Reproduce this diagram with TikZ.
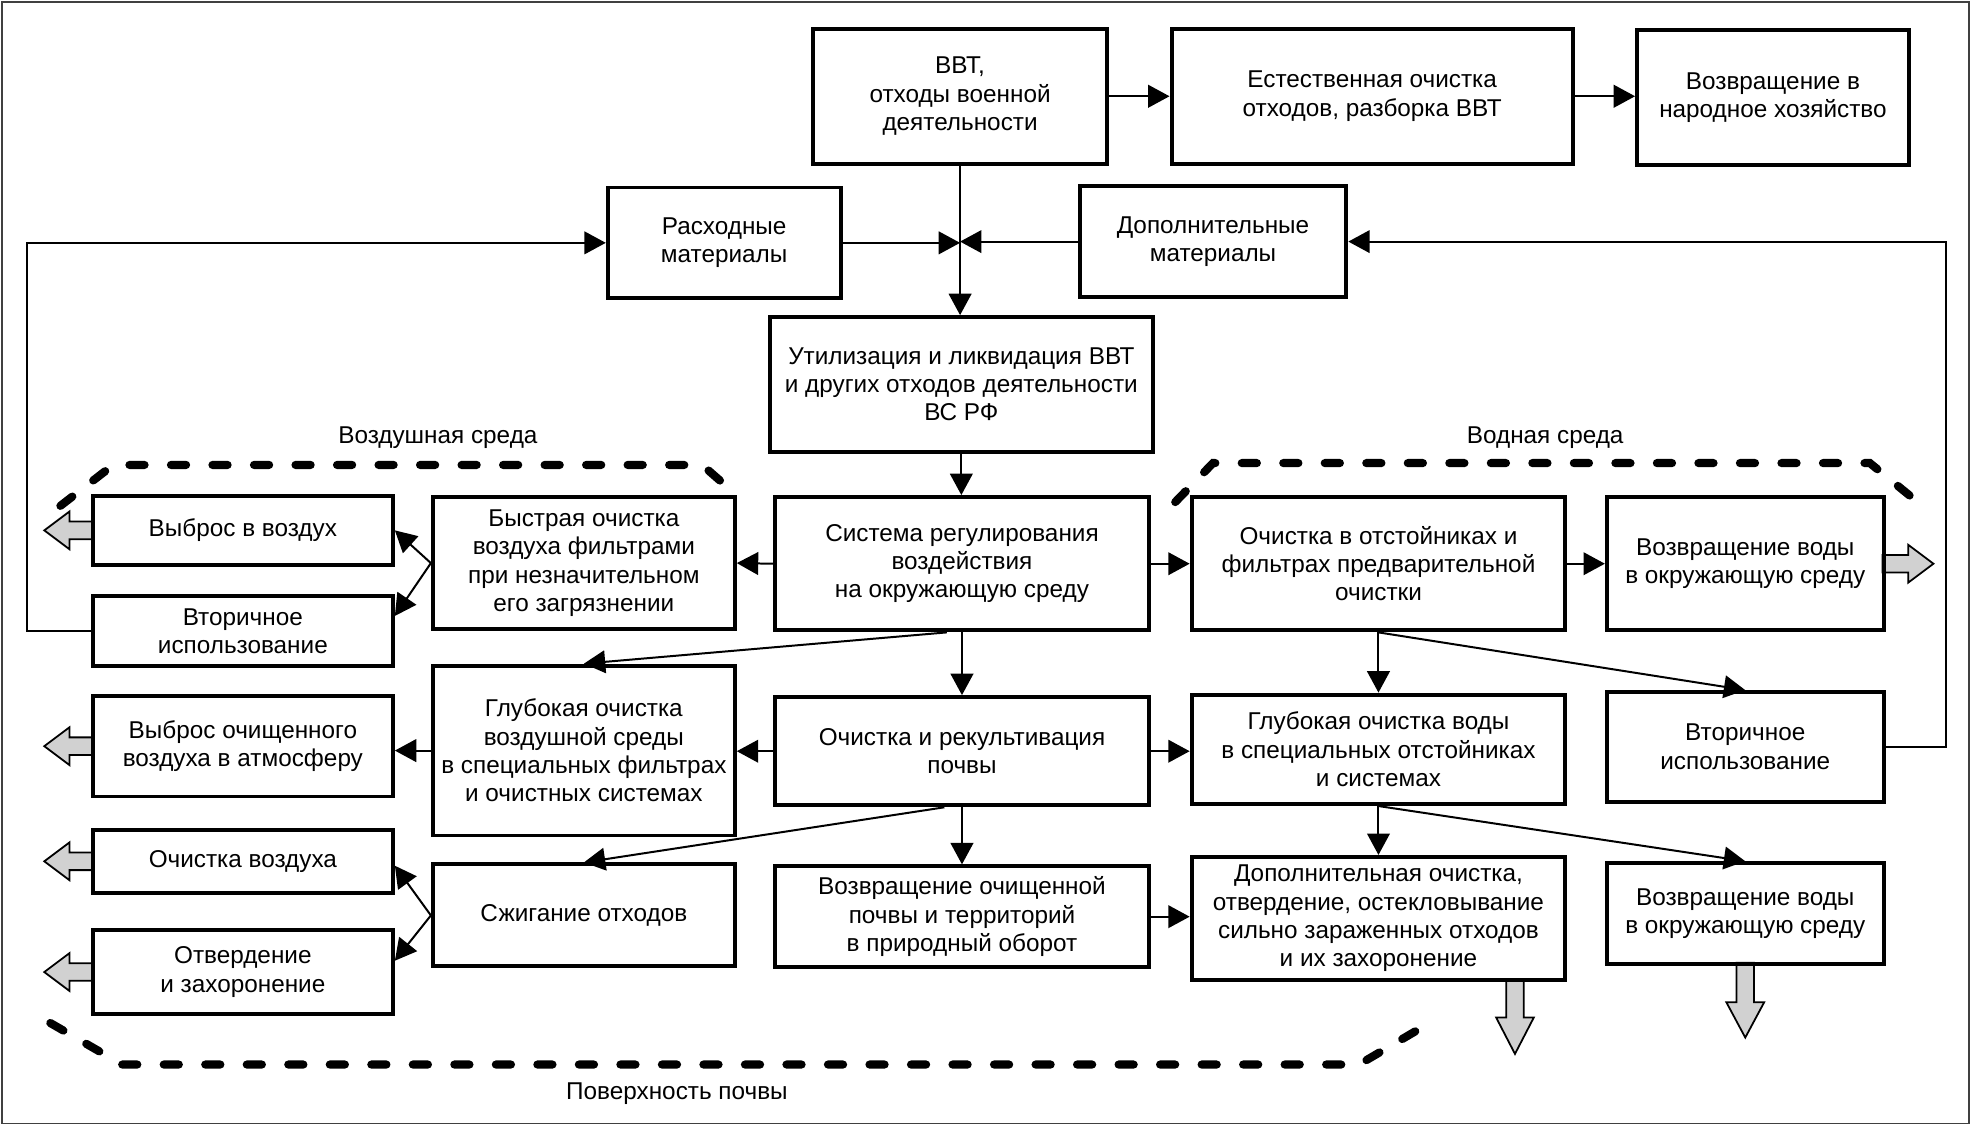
\documentclass[tikz,border=0pt]{standalone}
\usepackage{fontspec}
\setmainfont{Liberation Sans}
\usetikzlibrary{arrows.meta,calc,backgrounds}

\tikzset{
  box/.style={draw, line width=1.8pt, align=center, inner sep=2pt},
  arr/.style={line width=0.9pt, -{Triangle[length=0.34cm,width=0.36cm]}},
  zone/.style={line width=0.13cm, line cap=round, dash pattern=on 0.24cm off 0.42cm},
  pics/fatarrow/.style 2 args={code={
    \draw[line width=0.8pt, fill=black!18] (-2.5,-7) -- (#1,-7) -- (#1,-15) -- (#1+#2,0) -- (#1,15) -- (#1,7) -- (-2.5,7) -- cycle;
  }}
}

\begin{document}
\begin{tikzpicture}[x=0.02cm, y=-0.02cm, font=\fontsize{11}{12.8}\selectfont]
  \useasboundingbox (0,0) rectangle (1568,896);
  \draw[line width=0.7pt, black!75] (1.5,1.5) rectangle (1565,893);

  % top row
  \node[box, minimum width=4.68cm, minimum height=2.14cm] (vvt) at (763,76.5) {ВВТ,\\отходы военной\\деятельности};
  \node[box, minimum width=6.38cm, minimum height=2.14cm] (est) at (1090.5,76.5) {Естественная очистка\\отходов, разборка ВВТ};
  \node[box, minimum width=4.32cm, minimum height=2.14cm] (nar) at (1409,77.5) {Возвращение в\\народное хозяйство};

  % materials and utilisation
  \node[box, minimum width=3.7cm, minimum height=1.76cm] (rash) at (575.5,193) {Расходные\\материалы};
  \node[box, minimum width=4.24cm, minimum height=1.76cm] (dop) at (964,192) {Дополнительные\\материалы};
  \node[box, minimum width=6.08cm, minimum height=2.14cm] (util) at (764,305.5) {Утилизация и ликвидация ВВТ\\и других отходов деятельности\\ВС РФ};

  % first row
  \node[box, minimum width=5.94cm, minimum height=2.12cm] (sys) at (764.5,448) {Система регулирования\\воздействия\\на окружающую среду};
  \node[box, minimum width=4.8cm, minimum height=2.1cm] (bys) at (464,447.5) {Быстрая очистка\\воздуха фильтрами\\при незначительном\\его загрязнении};
  \node[box, minimum width=4.77cm, minimum height=1.1cm] (vybv) at (193,421.5) {Выброс в воздух};
  \node[box, minimum width=4.77cm, minimum height=1.1cm] (vtr1) at (193,501.5) {Вторичное\\использование};
  \node[box, minimum width=5.94cm, minimum height=2.12cm] (otst) at (1095.5,448) {Очистка в отстойниках и\\фильтрах предварительной\\очистки};
  \node[box, minimum width=4.4cm, minimum height=2.12cm] (vozv1) at (1387,448) {Возвращение воды\\в окружающую среду};

  % second row
  \node[box, minimum width=4.8cm, minimum height=2.7cm] (gvoz) at (464,596.5) {Глубокая очистка\\воздушной среды\\в специальных фильтрах\\и очистных системах};
  \node[box, minimum width=4.77cm, minimum height=1.6cm] (vybo) at (193,593) {Выброс очищенного\\воздуха в атмосферу};
  \node[box, minimum width=5.94cm, minimum height=1.72cm] (poch) at (764.5,597) {Очистка и рекультивация\\почвы};
  \node[box, minimum width=5.94cm, minimum height=1.74cm] (gvod) at (1095.5,595.5) {Глубокая очистка воды\\в специальных отстойниках\\и системах};
  \node[box, minimum width=4.4cm, minimum height=1.74cm] (vtr2) at (1387,593.5) {Вторичное\\использование};

  % third row
  \node[box, minimum width=4.77cm, minimum height=1cm] (ochv) at (193,684.5) {Очистка воздуха};
  \node[box, minimum width=4.8cm, minimum height=1.62cm] (szh) at (464,727.5) {Сжигание отходов};
  \node[box, minimum width=4.77cm, minimum height=1.34cm] (otv) at (193,772.5) {Отвердение\\и захоронение};
  \node[box, minimum width=5.94cm, minimum height=1.6cm] (vpoch) at (764.5,728.5) {Возвращение очищенной\\почвы и территорий\\в природный оборот};
  \node[box, minimum width=5.94cm, minimum height=1.96cm] (dopo) at (1095.5,730) {Дополнительная очистка,\\отвердение, остекловывание\\сильно зараженных отходов\\и их захоронение};
  \node[box, minimum width=4.4cm, minimum height=1.6cm] (vozv2) at (1387,726) {Возвращение воды\\в окружающую среду};

  % zone labels
  \node (air) at (348,348) {Воздушная среда};
  \node (water) at (1228,348) {Водная среда};
  \node (soil) at (538,869) {Поверхность почвы};

  % connectors
  \draw[arr] (vvt.south) -- (vvt.south |- util.north);
  \draw[arr] (rash.east) -- (rash.east -| vvt.south);
  \draw[arr] (dop.west) -- (dop.west -| vvt.south);
  \draw[arr] (vvt.east) -- (est.west);
  \draw[arr] (est.east) -- (est.east -| nar.west);
  \draw[arr] (vtr1.west) -- ++(-51,0) |- (rash.west);
  \draw[arr] (vtr2.east) -- ++(48,0) |- (dop.east);
  \draw[arr] (util.south) -- (util.south |- sys.north);
  \draw[arr] (sys.west) -- (bys.east);
  \draw[arr] (sys.east) -- (otst.west);
  \draw[arr] (bys.west) -- (vybv.east);
  \draw[arr] (bys.west) -- ([yshift=0.24cm]vtr1.east);
  \draw[arr] ([xshift=-0.24cm]sys.south) -- (gvoz.north);
  \draw[arr] (sys.south) -- (sys.south |- poch.north);
  \draw[arr] (poch.west) -- (poch.west -| gvoz.east);
  \draw[arr] (poch.east) -- (poch.east -| gvod.west);
  \draw[arr] (gvoz.west) -- (gvoz.west -| vybo.east);
  \draw[arr] ([xshift=-0.28cm]poch.south) -- (szh.north);
  \draw[arr] (poch.south) -- (poch.south |- vpoch.north);
  \draw[arr] (szh.west) -- ([yshift=-0.07cm]ochv.east);
  \draw[arr] (szh.west) -- ([yshift=0.18cm]otv.east);
  \draw[arr] (vpoch.east) -- (vpoch.east -| dopo.west);
  \draw[arr] (otst.east) -- (vozv1.west);
  \draw[arr] (otst.south) -- (gvod.north);
  \draw[arr] (otst.south) -- (vtr2.north);
  \draw[arr] (gvod.south) -- (dopo.north);
  \draw[arr] (gvod.south) -- (vozv2.north);

  % dashed zones
  \draw[zone] (48,402) -- (90,369.5) -- (558,369.5) -- (586,394);
  \draw[zone] (934,399) -- (964,368) -- (1486,368) -- (1524,399);
  \draw[zone] (40,813) -- (97,846) -- (1080,846) -- (1136,813);

  % outflow arrows
  \begin{scope}[on background layer]
    \pic[rotate=180] at (vybv.west) {fatarrow={17}{20}};
    \pic[rotate=180] at (vybo.west) {fatarrow={17}{20}};
    \pic[rotate=180] at (ochv.west) {fatarrow={17}{20}};
    \pic[rotate=180] at (otv.west) {fatarrow={17}{20}};
    \pic at (vozv1.east) {fatarrow={18}{20}};
    \pic[rotate=-90] at ([xshift=2.17cm]dopo.south) {fatarrow={28}{29}};
    \pic[rotate=-90] at (vozv2.south) {fatarrow={29}{28}};
  \end{scope}
\end{tikzpicture}
\end{document}
